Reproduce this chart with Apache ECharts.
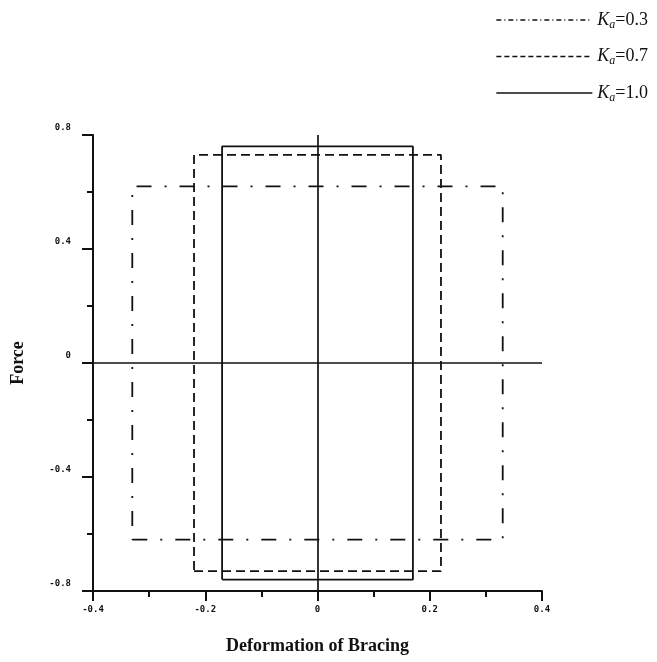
<!DOCTYPE html>
<html>
<head>
<meta charset="utf-8">
<script src="https://cdn.jsdelivr.net/npm/echarts@6/dist/echarts.min.js"></script>
<style>
  html, body { margin: 0; padding: 0; background: #ffffff; }
  #chart { width: 657px; height: 662px; }
</style>
</head>
<body>
<div id="chart"></div>
<script>
// Hysteresis loops of the bracing for three values of K_a
const kaValues = ['0.3', '0.7', '1.0'];
// half-width of each loop (deformation) and half-height (force)
const deformationLimit = [0.33, 0.22, 0.17];
const forceLimit = [0.62, 0.73, 0.76];

const loopDash = [[15, 13, 2, 13], [9, 5], 'solid'];
const legendDash = [[5, 3, 1, 3], [5, 3], 'solid'];
const ink = '#111111';

function loopPoints(d, f) {
  return [[-d, -f], [d, -f], [d, f], [-d, f], [-d, -f]];
}

const series = kaValues.map(function (ka, i) {
  const s = {
    name: ka,
    type: 'line',
    symbol: 'none',
    silent: true,
    animation: false,
    lineStyle: { color: ink, width: 1.8, type: loopDash[i] },
    itemStyle: { color: ink },
    data: loopPoints(deformationLimit[i], forceLimit[i])
  };
  if (i === kaValues.length - 1) {
    // zero reference lines through the origin
    s.markLine = {
      silent: true,
      symbol: 'none',
      animation: false,
      label: { show: false },
      lineStyle: { color: ink, type: 'solid', width: 1.7 },
      data: [{ yAxis: 0 }, { xAxis: 0 }]
    };
  }
  return s;
});

const tickLabel = {
  color: '#111',
  fontFamily: 'DejaVu Sans Mono',
  fontWeight: 'bold',
  fontSize: 9
};

const chart = echarts.init(document.getElementById('chart'), null, { renderer: 'canvas' });
chart.setOption({
  backgroundColor: '#ffffff',
  animation: false,
  grid: { left: 93, right: 115, top: 135, bottom: 71, containLabel: false },
  legend: {
    orient: 'vertical',
    right: 4,
    top: 6,
    itemWidth: 96,
    itemHeight: 14,
    itemGap: 17,
    selectedMode: false,
    data: kaValues.map(function (ka, i) {
      return {
        name: ka,
        itemStyle: { opacity: 0 },
        lineStyle: { type: legendDash[i], width: 1.3, color: ink }
      };
    }),
    formatter: function (name) {
      return '{k|K}{s|a}{n|=' + name + '}';
    },
    textStyle: {
      color: '#111',
      rich: {
        k: { fontFamily: 'Liberation Serif', fontStyle: 'italic', fontSize: 18, lineHeight: 21, verticalAlign: 'middle' },
        s: { fontFamily: 'Liberation Serif', fontStyle: 'italic', fontSize: 12, lineHeight: 21, verticalAlign: 'bottom', padding: [6, 0, 0, 0] },
        n: { fontFamily: 'Liberation Serif', fontSize: 18, lineHeight: 21, verticalAlign: 'middle' }
      }
    }
  },
  xAxis: {
    type: 'value',
    min: -0.4,
    max: 0.4,
    interval: 0.2,
    name: 'Deformation of Bracing',
    nameLocation: 'middle',
    nameGap: 46,
    nameTextStyle: { fontFamily: 'Liberation Serif', fontWeight: 'bold', fontSize: 18, color: '#111' },
    axisLine: { show: true, onZero: false, lineStyle: { color: ink, width: 2 } },
    axisTick: { show: true, inside: false, length: 10, lineStyle: { color: ink, width: 2 } },
    minorTick: { show: true, splitNumber: 2, length: 6, lineStyle: { color: ink, width: 2 } },
    splitLine: { show: false },
    axisLabel: Object.assign({ margin: 14 }, tickLabel)
  },
  yAxis: {
    type: 'value',
    min: -0.8,
    max: 0.8,
    interval: 0.4,
    name: 'Force',
    nameLocation: 'middle',
    nameGap: 66,
    nameTextStyle: { fontFamily: 'Liberation Serif', fontWeight: 'bold', fontSize: 18, color: '#111' },
    axisLine: { show: true, onZero: false, lineStyle: { color: ink, width: 2 } },
    axisTick: { show: true, inside: false, length: 11, lineStyle: { color: ink, width: 2 } },
    minorTick: { show: true, splitNumber: 2, length: 6, lineStyle: { color: ink, width: 2 } },
    splitLine: { show: false },
    axisLabel: Object.assign({ margin: 22, verticalAlign: 'bottom', padding: [0, 0, 3, 0] }, tickLabel)
  },
  series: series
});
</script>
</body>
</html>
